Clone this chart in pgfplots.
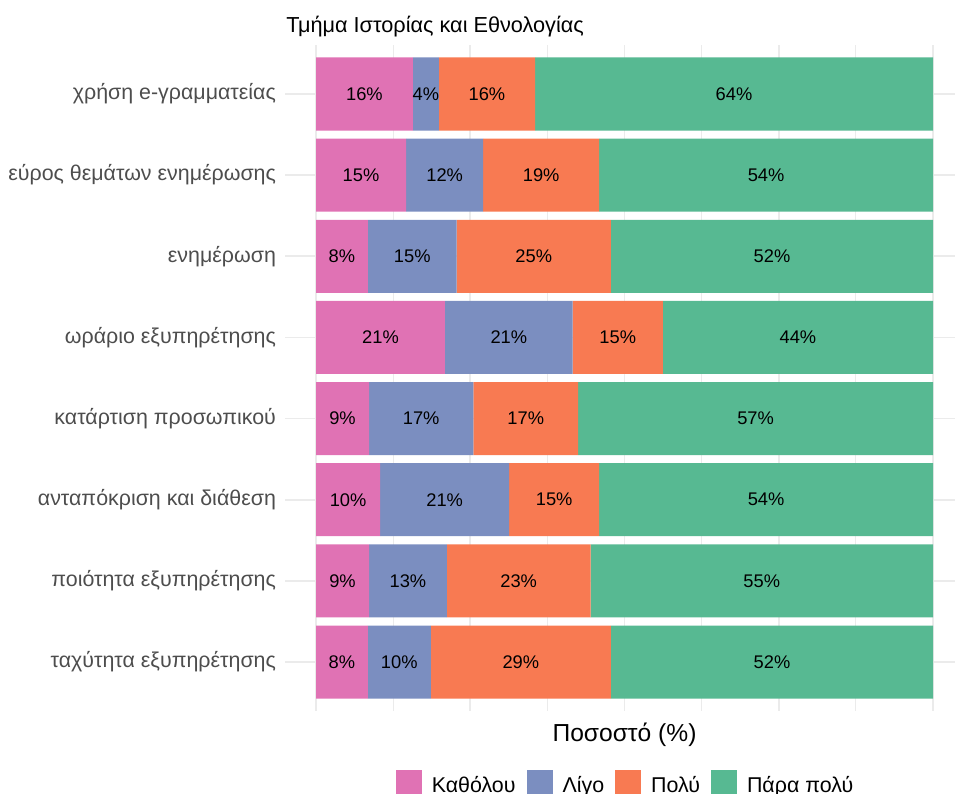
\documentclass[border=0pt]{standalone}
\usepackage{pgfplots}
\pgfplotsset{compat=1.18}
\usepackage{pgfplotstable}
\usepackage{fontspec}
\setmainfont{Liberation Sans}
\definecolor{cA}{HTML}{E072B4}
\definecolor{cB}{HTML}{7B8EC0}
\definecolor{cC}{HTML}{F87A52}
\definecolor{cD}{HTML}{57B992}
\definecolor{gridc}{HTML}{EBEBEB}
\definecolor{labc}{HTML}{4D4D4D}

\pgfplotstableread{
y a b c d
0 8.4 10.2 29.2 52.2
1 8.6 12.6 23.3 55.5
2 10.4 20.9 14.6 54.1
3 8.6 16.9 17.0 57.5
4 20.9 20.7 14.6 43.8
5 8.4 14.4 25.0 52.2
6 14.6 12.5 18.8 54.1
7 15.7 4.2 15.6 64.5
}\bars

\pgfplotstableread{
x y l
7.85 7 16
17.8 7 4
27.7 7 16
67.75 7 64
7.3 6 15
20.85 6 12
36.5 6 19
72.95 6 54
4.2 5 8
15.6 5 15
35.3 5 25
73.9 5 52
10.45 4 21
31.25 4 21
48.9 4 15
78.1 4 44
4.3 3 9
17.05 3 17
34.0 3 17
71.25 3 57
5.2 2 10
20.85 2 21
38.6 2 15
72.95 2 54
4.3 1 9
14.9 1 13
32.85 1 23
72.25 1 55
4.2 0 8
13.5 0 10
33.2 0 29
73.9 0 52
}\labels

\pgfplotsset{
  panel/.style={
    scale only axis, width=678.7pt, height=665.4pt,
    at={(285.15pt,-710.7pt)}, anchor=south west,
    xmin=-5, xmax=105, ymin=-0.6, ymax=7.6,
  }
}

\begin{document}
\begin{tikzpicture}
\begin{axis}[panel,
  xbar stacked, bar width=0.9,
  axis line style={draw=none},
  tick style={draw=none},
  xtick={0,25,50,75,100},
  minor xtick={12.5,37.5,62.5,87.5},
  xticklabels={{},{},{},{},{}},
  ytick={0,1,2,3,4,5,6,7},
  yticklabels={ταχύτητα εξυπηρέτησης, ποιότητα εξυπηρέτησης, ανταπόκριση και διάθεση, κατάρτιση προσωπικού, ωράριο εξυπηρέτησης, ενημέρωση, εύρος θεμάτων ενημέρωσης, χρήση e-γραμματείας},
  yticklabel style={font=\fontsize{21.4pt}{25pt}\selectfont, text=labc, inner sep=0pt, xshift=-9pt},
  xmajorgrids, xminorgrids, ymajorgrids,
  major grid style={gridc, line width=1.6pt},
  minor grid style={gridc, line width=0.8pt},
  every axis title shift=0pt,
  title={Τμήμα Ιστορίας και Εθνολογίας},
  title style={at={(0,1)}, anchor=base west, yshift=12.3pt, xshift=1pt, inner sep=0pt, font=\fontsize{21.7pt}{25pt}\selectfont},
  xlabel={Ποσοστό (\%)},
  xlabel style={at={(axis description cs:0.5,0)}, anchor=base, yshift=-30.3pt, inner sep=0pt, font=\fontsize{24.6pt}{29pt}\selectfont},
  legend columns=4,
  legend style={at={(0.5,0)}, anchor=north, yshift=-59.3pt, draw=none, fill=none, inner sep=0pt, outer sep=0pt,
     cells={anchor=base west},
     nodes={inner sep=0pt, font=\fontsize{21.4pt}{25pt}\selectfont},
     /tikz/every odd column/.append style={column sep=10pt},
     /tikz/every even column/.append style={column sep=11pt}},
  legend image code/.code={\fill[#1] (0pt,-4pt) rectangle (26pt,22pt);},
]
\addplot[fill=cA, draw=none] table[x=a, y=y] {\bars};
\addplot[fill=cB, draw=none] table[x=b, y=y] {\bars};
\addplot[fill=cC, draw=none] table[x=c, y=y] {\bars};
\addplot[fill=cD, draw=none] table[x=d, y=y] {\bars};
\legend{Καθόλου, Λίγο, Πολύ, Πάρα πολύ}
\end{axis}
\begin{axis}[panel, hide axis]
\addplot[only marks, mark=none, point meta=explicit symbolic,
  nodes near coords={\pgfplotspointmeta\%},
  every node near coord/.append style={anchor=center, inner sep=0pt, text=black, font=\fontsize{18.3pt}{22pt}\selectfont}]
  table[x=x, y=y, meta=l] {\labels};
\end{axis}
\pgfresetboundingbox
\useasboundingbox (0pt,0pt) rectangle (955pt,-794pt);
\end{tikzpicture}
\end{document}
